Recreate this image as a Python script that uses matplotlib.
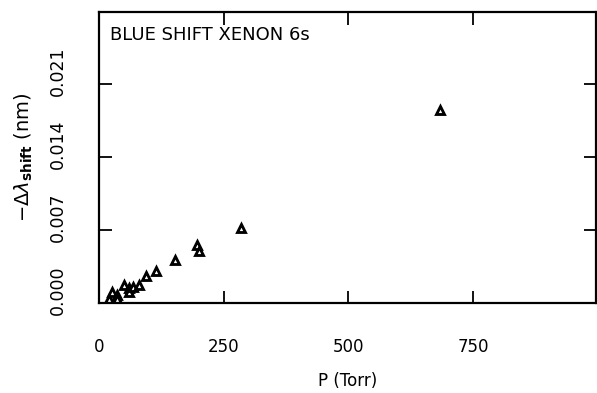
import matplotlib
matplotlib.use("Agg")
import matplotlib.pyplot as plt
import matplotlib.transforms as mtransforms

# Blue shift of the xenon 6s line versus pressure
pressure_torr = [20, 27, 36, 36, 51, 61, 61, 69, 81, 94, 115, 152, 196, 200, 284, 684]
blue_shift_nm = [0.00036, 0.00107, 0.00074, 0.00036, 0.00176, 0.00145, 0.00107,
                 0.00150, 0.00176, 0.00255, 0.00307, 0.00414, 0.00560, 0.00500,
                 0.00720, 0.01850]

x_ticks = [0, 250, 500, 750]
x_tick_labels = ["0", "250", "500", "750"]
y_ticks = [0.000, 0.007, 0.014, 0.021]
y_tick_labels = ["0.000", "0.007", "0.014", "0.021"]

plt.rcParams["font.family"] = ["DejaVu Sans"]

fig = plt.figure(figsize=(5.97, 3.93), dpi=100)
ax = fig.add_axes([99 / 597, 1 - 303 / 393, 497 / 597, 291 / 393])

ax.plot(pressure_torr, blue_shift_nm, linestyle="none", marker="^",
        markersize=5.4, markerfacecolor="white", markeredgecolor="black",
        markeredgewidth=2.05, clip_on=True)

ax.set_xlim(0, 996)
ax.set_ylim(0.00015, 0.0279)

ax.set_xticks(x_ticks)
ax.set_xticklabels(x_tick_labels, fontsize=12)
ax.set_yticks(y_ticks)
ax.set_yticklabels(y_tick_labels, fontsize=12.5, rotation=90, va="center")

ax.tick_params(direction="in", length=9, width=1.3, top=True, right=True,
               colors="black")
ax.tick_params(axis="x", pad=25)
ax.tick_params(axis="y", pad=23)

# raise the rotated y labels a little above their ticks
shift = mtransforms.ScaledTranslation(0, 13 / 100, fig.dpi_scale_trans)
for lab in ax.get_yticklabels():
    lab.set_transform(lab.get_transform() + shift)

for sp in ax.spines.values():
    sp.set_linewidth(1.6)

ax.set_xlabel("P (Torr)", fontsize=12, labelpad=12)
ax.set_ylabel(r"$-\Delta\lambda_{\mathbf{shift}}$ (nm)", fontsize=14, labelpad=10)

ax.text(0.022, 0.92, "BLUE SHIFT XENON 6s", transform=ax.transAxes,
        fontsize=13, va="center", ha="left")

fig.savefig("out.png", dpi=100)
